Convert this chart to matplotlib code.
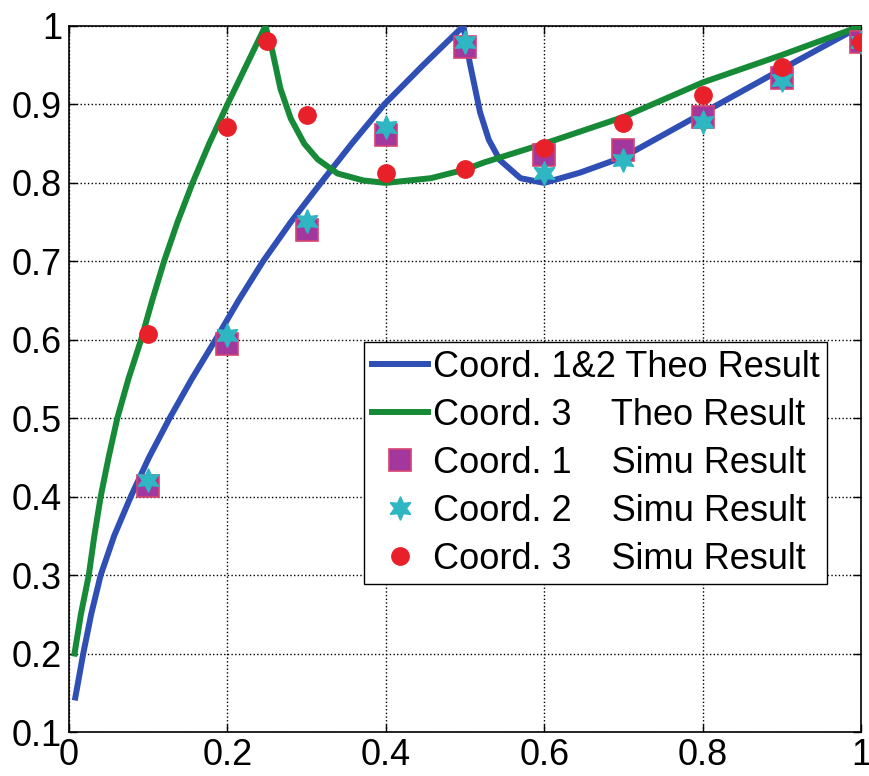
import matplotlib
matplotlib.use("Agg")
import matplotlib.pyplot as plt

plt.rcParams['font.family'] = ['Liberation Sans', 'DejaVu Sans']

# theoretical curves
blue_x = [0.008, 0.018, 0.028, 0.04, 0.057, 0.078, 0.101, 0.127, 0.155, 0.185,
          0.214, 0.245, 0.28, 0.318, 0.357, 0.398, 0.447, 0.498,
          0.506, 0.519, 0.53, 0.544, 0.57, 0.6, 0.645, 0.7, 0.8, 0.9, 1.0]
blue_y = [0.144, 0.2, 0.25, 0.3, 0.35, 0.4, 0.45, 0.5, 0.55, 0.6,
          0.65, 0.7, 0.75, 0.8, 0.85, 0.9, 0.95, 1.0,
          0.953, 0.89, 0.855, 0.829, 0.806, 0.80, 0.813, 0.833, 0.889, 0.945, 1.0]

green_x = [0.007, 0.015, 0.025, 0.032, 0.04, 0.05, 0.061, 0.075, 0.091, 0.105,
           0.12, 0.137, 0.156, 0.177, 0.2, 0.224, 0.248,
           0.257, 0.267, 0.28, 0.297, 0.314, 0.339, 0.372, 0.4, 0.457,
           0.5, 0.524, 0.6, 0.7, 0.8, 0.9, 1.0]
green_y = [0.2, 0.25, 0.3, 0.35, 0.4, 0.45, 0.5, 0.55, 0.6, 0.65,
           0.7, 0.75, 0.8, 0.85, 0.9, 0.95, 1.0,
           0.967, 0.92, 0.882, 0.85, 0.83, 0.812, 0.803, 0.80, 0.806,
           0.817, 0.826, 0.85, 0.884, 0.928, 0.963, 1.0]

# simulation points
sim_x = [0.1, 0.2, 0.3, 0.4, 0.5, 0.6, 0.7, 0.8, 0.9, 1.0]
coord1_y = [0.413, 0.594, 0.74, 0.861, 0.973, 0.835, 0.842, 0.884, 0.934, 0.98]
coord2_y = [0.421, 0.606, 0.752, 0.871, 0.98, 0.812, 0.829, 0.878, 0.931, 0.98]
coord3_x = [0.1, 0.2, 0.25, 0.3, 0.4, 0.5, 0.6, 0.7, 0.8, 0.9, 1.0]
coord3_y = [0.607, 0.871, 0.981, 0.887, 0.813, 0.818, 0.845, 0.876, 0.912, 0.948, 0.98]

xticks = [0, 0.2, 0.4, 0.6, 0.8, 1]
xtick_labels = ['0', '0.2', '0.4', '0.6', '0.8', '1']
yticks = [0.1, 0.2, 0.3, 0.4, 0.5, 0.6, 0.7, 0.8, 0.9, 1]
ytick_labels = ['0.1', '0.2', '0.3', '0.4', '0.5', '0.6', '0.7', '0.8', '0.9', '1']

fig = plt.figure(figsize=(8.7, 7.76), dpi=100)
ax = fig.add_axes([0.0793, 0.0567, 0.9104, 0.9098])

ax.plot(blue_x, blue_y, color='#2F4FB5', lw=4.3, label='Coord. 1&2 Theo Result', zorder=3)
ax.plot(green_x, green_y, color='#168A36', lw=4.3, label='Coord. 3    Theo Result', zorder=3)
ax.plot(sim_x, coord1_y, ls='none', marker='s', ms=15.5, mfc='#A2389E', mec='#D84270',
        mew=1.2, label='Coord. 1    Simu Result', zorder=4)
ax.plot(sim_x, coord2_y, ls='none', marker=(6, 1, 0), ms=17, mfc='#2EB6C2', mec='#2EB6C2',
        label='Coord. 2    Simu Result', zorder=5)
ax.plot(coord3_x, coord3_y, ls='none', marker='o', ms=12.5, mfc='#E8202A', mec='#E8202A',
        label='Coord. 3    Simu Result', zorder=6)

ax.set_xlim(0, 1)
ax.set_ylim(0.1, 1)
ax.set_xticks(xticks)
ax.set_xticklabels(xtick_labels)
ax.set_yticks(yticks)
ax.set_yticklabels(ytick_labels)
ax.tick_params(direction='in', length=6, width=1, top=True, right=True,
               labelsize=26, colors='black')
ax.tick_params(axis='y', pad=5)
ax.tick_params(axis='x', pad=4)
ax.grid(True, color='black', ls=':', lw=1)
for s in ax.spines.values():
    s.set_linewidth(1.2)
    s.set_color('black')

leg = ax.legend(loc='upper right', bbox_to_anchor=(0.957, 0.552), borderaxespad=0,
                fontsize=26, handlelength=1.55, handletextpad=0.15, labelspacing=0.36,
                borderpad=0.2, fancybox=False, framealpha=1, edgecolor='black')
leg.get_frame().set_linewidth(1.0)

fig.savefig('out.png', dpi=100)
